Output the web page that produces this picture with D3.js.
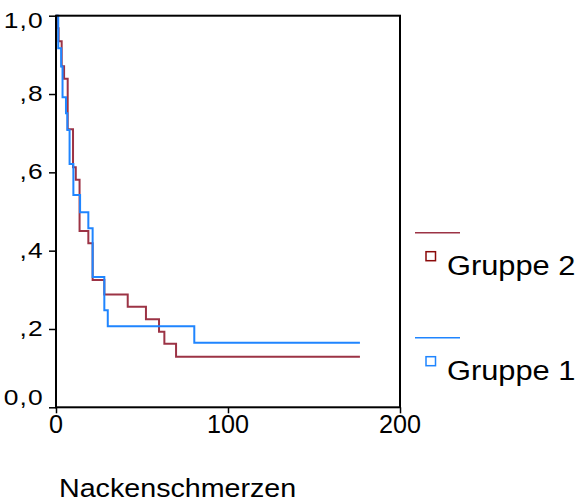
<!DOCTYPE html>
<html lang="de">
<head>
<meta charset="utf-8">
<title>Nackenschmerzen</title>
<script src="https://d3js.org/d3.v7.min.js"></script>
<style>
  body { margin: 0; background: #fff; }
  svg text { font-family: "Liberation Sans", Arial, sans-serif; fill: #000; }
  .axis line { stroke: #000; stroke-width: 1.5px; }
  .km { fill: none; stroke-width: 2px; }
</style>
</head>
<body>
<script>
// survival steps (time, cumulative survival)
const group2Times = [0, 0.8, 1.5, 3.3, 4.7, 6.8, 9.9, 11.5, 13.7, 18.8, 21.3, 28.1, 41.7, 52.3, 59.9, 63.0, 69.8];
const group2Surv  = [1.0, 0.968, 0.935, 0.871, 0.839, 0.710, 0.613, 0.581, 0.450, 0.419, 0.325, 0.288, 0.257, 0.225, 0.193, 0.162, 0.129];
const group1Times = [0, 1.3, 3.0, 3.8, 5.8, 6.6, 7.9, 10.1, 14.0, 18.8, 21.3, 28.1, 30.1, 80.4];
const group1Surv  = [1.0, 0.917, 0.870, 0.792, 0.751, 0.708, 0.621, 0.542, 0.498, 0.457, 0.333, 0.248, 0.207, 0.165];
const lastTime = 176.7;

const xTicks = [0, 100, 200];
const xTickLabels = ["0", "100", "200"];
const yTicks = [0, 0.2, 0.4, 0.6, 0.8, 1.0];
const yTickLabels = ["0,0", ",2", ",4", ",6", ",8", "1,0"];
const groupNames = ["Gruppe 2", "Gruppe 1"];
const groupColors = ["#9c3345", "#1f85ff"];
const markColors = ["#8b0a0a", "#1f85ff"];

const w = 582, h = 504;
const plotLeft = 56, plotRight = 400, plotTop = 15.7, plotBottom = 407.3;

const svg = d3.select("body").append("svg")
    .attr("width", w)
    .attr("height", h);

const x = d3.scaleLinear().domain([0, 200]).range([plotLeft, plotRight]);
const y = d3.scaleLinear().domain([0, 1]).range([plotBottom, plotTop]);

// tick marks
svg.append("g")
    .attr("class", "axis")
    .attr("transform", "translate(" + plotLeft + ",0)")
    .call(d3.axisLeft(y).tickValues(yTicks).tickSize(7).tickFormat(""))
    .select(".domain").remove();

svg.append("g")
    .attr("class", "axis")
    .attr("transform", "translate(0," + plotBottom + ")")
    .call(d3.axisBottom(x).tickValues(xTicks).tickSize(6).tickFormat(""))
    .select(".domain").remove();

// y labels (top and bottom pulled inward like the original)
yTicks.forEach((v, i) => {
    let dy = 7;
    if (v === 1) dy = 12.6;
    if (v === 0) dy = -2;
    svg.append("text")
        .attr("text-anchor", "end")
        .attr("font-size", "22px")
        .attr("letter-spacing", "1px")
        .attr("transform", "translate(44," + (y(v) + dy) + ") scale(1.2,1)")
        .text(yTickLabels[i]);
});

// x labels
xTicks.forEach((v, i) => {
    svg.append("text")
        .attr("text-anchor", "middle")
        .attr("font-size", "24px")
        .attr("transform", "translate(" + x(v) + ",433) scale(1.05,1.1)")
        .text(xTickLabels[i]);
});

// step curves
const line = d3.line()
    .curve(d3.curveStepAfter)
    .x(d => x(d[0]))
    .y(d => y(d[1]));

function steps(times, surv) {
    const pts = times.map((t, i) => [t, surv[i]]);
    pts.push([lastTime, surv[surv.length - 1]]);
    return pts;
}

svg.append("path")
    .attr("class", "km")
    .attr("stroke", groupColors[0])
    .attr("d", line(steps(group2Times, group2Surv)));

svg.append("path")
    .attr("class", "km")
    .attr("stroke", groupColors[1])
    .attr("d", line(steps(group1Times, group1Surv)));

// frame
svg.append("rect")
    .attr("x", plotLeft)
    .attr("y", plotTop)
    .attr("width", plotRight - plotLeft)
    .attr("height", plotBottom - plotTop)
    .attr("fill", "none")
    .attr("stroke", "#000")
    .attr("stroke-width", 2);

// legend
const legendY = [232.7, 337.7];
groupNames.forEach((name, i) => {
    const ly = legendY[i];
    svg.append("line")
        .attr("x1", 415).attr("x2", 460)
        .attr("y1", ly).attr("y2", ly)
        .attr("stroke", groupColors[i])
        .attr("stroke-width", 1.5);
    svg.append("rect")
        .attr("x", 426).attr("y", ly + 19)
        .attr("width", 9.5).attr("height", 9)
        .attr("fill", "#fff")
        .attr("stroke", markColors[i])
        .attr("stroke-width", 1.5);
    svg.append("text")
        .attr("font-size", "28px")
        .attr("transform", "translate(447," + (ly + 42.5) + ") scale(1.1,1)")
        .text(name);
});

// x title
svg.append("text")
    .attr("font-size", "25.6px")
    .attr("transform", "translate(59,496.7) scale(1.12,1)")
    .text("Nackenschmerzen");
</script>
</body>
</html>
